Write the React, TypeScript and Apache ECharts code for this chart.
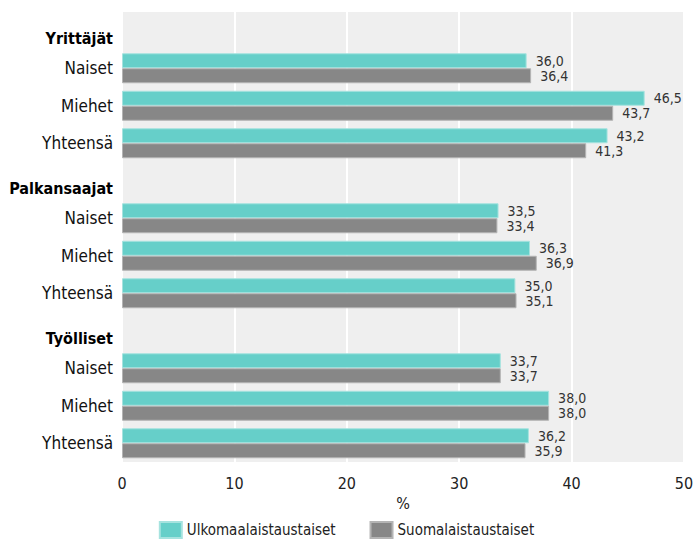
import React, { useEffect, useRef } from "react";
import * as echarts from "echarts";

const categories = [
  "Yrittäjät", "Naiset", "Miehet", "Yhteensä",
  "Palkansaajat", "Naiset", "Miehet", "Yhteensä",
  "Työlliset", "Naiset", "Miehet", "Yhteensä",
];
const headerRows = [0, 4, 8];
const ulkomaalaistaustaiset = [null, 36.0, 46.5, 43.2, null, 33.5, 36.3, 35.0, null, 33.7, 38.0, 36.2];
const suomalaistaustaiset = [null, 36.4, 43.7, 41.3, null, 33.4, 36.9, 35.1, null, 33.7, 38.0, 35.9];
const xTicks = [0, 10, 20, 30, 40, 50];

const FONT = "'Liberation Sans Narrow', 'DejaVu Sans Condensed', 'Arial Narrow', sans-serif";

export default function App() {
  const ref = useRef<HTMLDivElement>(null);
  useEffect(() => {
    if (!ref.current) return;
    const chart = echarts.init(ref.current, null, { renderer: "svg" });
    const fmt = (p: any) => (p.value == null ? "" : Number(p.value).toFixed(1).replace(".", ","));
    const labelStyle = {
      show: true,
      position: "right" as const,
      distance: 9,
      formatter: fmt,
      fontFamily: FONT,
      fontSize: 14,
      color: "#333",
    };
    chart.setOption({
      animation: false,
      textStyle: { fontFamily: FONT },
      grid: {
        left: 122, right: 9, top: 12, bottom: 86,
        containLabel: false, outerBoundsMode: "none",
        show: true, backgroundColor: "#efefef", borderWidth: 0,
      },
      xAxis: {
        type: "value",
        min: xTicks[0],
        max: xTicks[xTicks.length - 1],
        interval: 10,
        name: "%",
        nameLocation: "middle",
        nameGap: 29,
        nameTextStyle: { fontFamily: FONT, fontSize: 16, color: "#222" },
        axisLine: { show: false },
        axisTick: { show: false },
        axisLabel: { fontFamily: FONT, fontSize: 16, color: "#222", margin: 13 },
        splitLine: { show: true, lineStyle: { color: "#ffffff", width: 2 } },
      },
      yAxis: {
        type: "category",
        data: categories,
        inverse: true,
        axisLine: { show: false },
        axisTick: { show: false },
        splitLine: { show: false },
        axisLabel: {
          margin: 9,
          fontFamily: FONT,
          fontSize: 17,
          color: "#111",
          formatter: (v: string, i: number) => (headerRows.includes(i) ? `{h|${v}}` : v),
          rich: {
            h: { fontFamily: FONT, fontSize: 16, fontWeight: "bold", color: "#000", padding: [15, 0, 0, 0] },
          },
        },
      },
      legend: {
        bottom: 4,
        left: "center",
        itemWidth: 22,
        itemHeight: 16,
        itemGap: 34,
        icon: "rect",
        textStyle: { fontFamily: FONT, fontSize: 15, color: "#222" },
        data: ["Ulkomaalaistaustaiset", "Suomalaistaustaiset"],
      },
      series: [
        {
          name: "Ulkomaalaistaustaiset",
          type: "bar",
          data: ulkomaalaistaustaiset,
          barWidth: 15,
          barGap: "0%",
          itemStyle: { color: "#66cfc9", borderColor: "#a6e3df", borderWidth: 1 },
          label: labelStyle,
        },
        {
          name: "Suomalaistaustaiset",
          type: "bar",
          data: suomalaistaustaiset,
          barWidth: 15,
          itemStyle: { color: "#878787", borderColor: "#b4b4b4", borderWidth: 1 },
          label: labelStyle,
        },
      ],
    });
    return () => chart.dispose();
  }, []);
  return <div ref={ref} style={{ width: 693, height: 548, position: "absolute", left: 0, top: 0 }} />;
}
